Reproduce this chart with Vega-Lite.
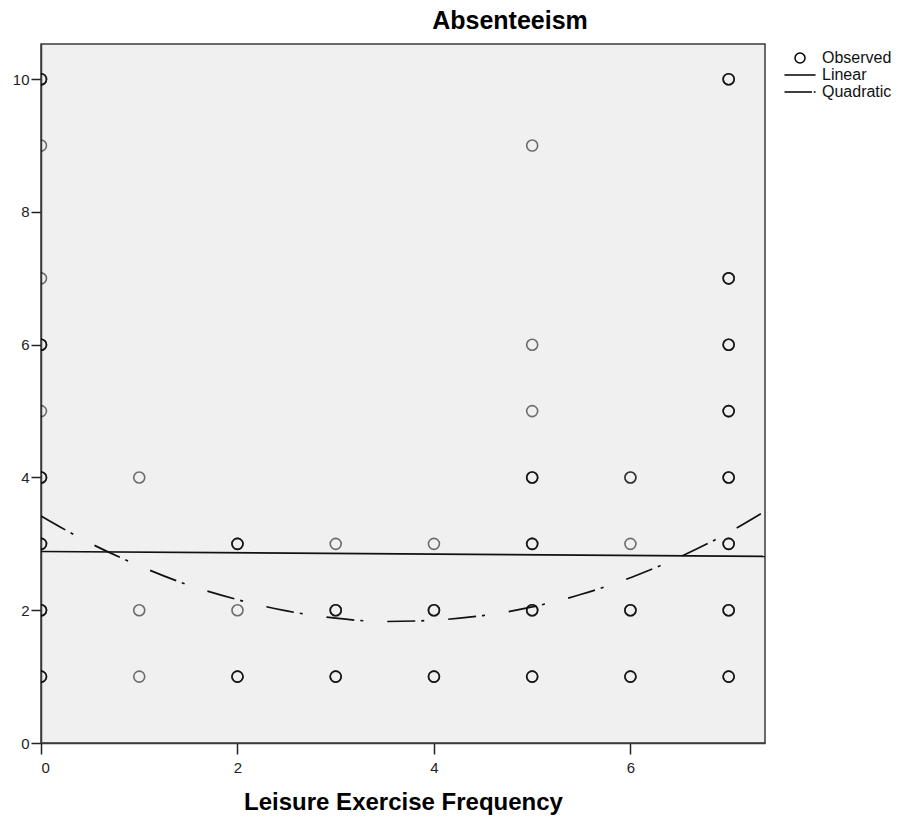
{
  "$schema": "https://vega.github.io/schema/vega-lite/v6.json",
  "autosize": {"type": "none"},
  "padding": {"left": 41, "top": 44, "right": 137, "bottom": 81},
  "width": 724,
  "height": 699,
  "background": "white",
  "title": {"text": "Absenteeism", "font": "Liberation Sans", "fontSize": 25, "fontWeight": "bold", "color": "#000", "anchor": "middle", "dx": 107, "offset": 10},
  "config": {
    "view": {"fill": "#f0f0f0", "stroke": "#3a3a3a", "strokeWidth": 1.5},
    "axis": {"grid": false, "labelFont": "Liberation Sans", "labelFontSize": 15, "labelColor": "#222", "domainColor": "#3a3a3a", "domainWidth": 1.5, "tickColor": "#222", "tickWidth": 1.5, "titleFont": "Liberation Sans", "titleColor": "#000"},
    "legend": {"labelFont": "Liberation Sans", "labelFontSize": 16, "labelColor": "#111"}
  },
  "datasets": {
    "obs": [
      {"x": 0, "y": 10}, {"x": 0, "y": 10}, {"x": 0, "y": 10},
      {"x": 0, "y": 9},
      {"x": 0, "y": 7},
      {"x": 0, "y": 6}, {"x": 0, "y": 6}, {"x": 0, "y": 6},
      {"x": 0, "y": 5},
      {"x": 0, "y": 4}, {"x": 0, "y": 4}, {"x": 0, "y": 4},
      {"x": 0, "y": 3}, {"x": 0, "y": 3}, {"x": 0, "y": 3},
      {"x": 0, "y": 2}, {"x": 0, "y": 2}, {"x": 0, "y": 2},
      {"x": 0, "y": 1}, {"x": 0, "y": 1}, {"x": 0, "y": 1},
      {"x": 1, "y": 4}, {"x": 1, "y": 2}, {"x": 1, "y": 1},
      {"x": 2, "y": 3}, {"x": 2, "y": 3}, {"x": 2, "y": 3},
      {"x": 2, "y": 2},
      {"x": 2, "y": 1}, {"x": 2, "y": 1}, {"x": 2, "y": 1},
      {"x": 3, "y": 3},
      {"x": 3, "y": 2}, {"x": 3, "y": 2}, {"x": 3, "y": 2},
      {"x": 3, "y": 1}, {"x": 3, "y": 1}, {"x": 3, "y": 1},
      {"x": 4, "y": 3},
      {"x": 4, "y": 2}, {"x": 4, "y": 2}, {"x": 4, "y": 2},
      {"x": 4, "y": 1}, {"x": 4, "y": 1}, {"x": 4, "y": 1},
      {"x": 5, "y": 9}, {"x": 5, "y": 6}, {"x": 5, "y": 5},
      {"x": 5, "y": 4}, {"x": 5, "y": 4}, {"x": 5, "y": 4},
      {"x": 5, "y": 3}, {"x": 5, "y": 3}, {"x": 5, "y": 3},
      {"x": 5, "y": 2}, {"x": 5, "y": 2}, {"x": 5, "y": 2},
      {"x": 5, "y": 1}, {"x": 5, "y": 1}, {"x": 5, "y": 1},
      {"x": 6, "y": 4}, {"x": 6, "y": 4},
      {"x": 6, "y": 3},
      {"x": 6, "y": 2}, {"x": 6, "y": 2}, {"x": 6, "y": 2},
      {"x": 6, "y": 1}, {"x": 6, "y": 1}, {"x": 6, "y": 1},
      {"x": 7, "y": 10}, {"x": 7, "y": 10}, {"x": 7, "y": 10},
      {"x": 7, "y": 7}, {"x": 7, "y": 7}, {"x": 7, "y": 7},
      {"x": 7, "y": 6}, {"x": 7, "y": 6}, {"x": 7, "y": 6},
      {"x": 7, "y": 5}, {"x": 7, "y": 5}, {"x": 7, "y": 5},
      {"x": 7, "y": 4}, {"x": 7, "y": 4}, {"x": 7, "y": 4},
      {"x": 7, "y": 3}, {"x": 7, "y": 3}, {"x": 7, "y": 3},
      {"x": 7, "y": 2}, {"x": 7, "y": 2}, {"x": 7, "y": 2},
      {"x": 7, "y": 1}, {"x": 7, "y": 1}, {"x": 7, "y": 1}
    ],
    "lin": [
      {"x": 0, "y": 2.885},
      {"x": 7.37, "y": 2.81}
    ],
    "quad": [
      {"x": 0, "y": 3.42}, {"x": 0.5, "y": 3.01}, {"x": 1, "y": 2.67}, {"x": 1.5, "y": 2.38},
      {"x": 2, "y": 2.16}, {"x": 2.5, "y": 1.99}, {"x": 3, "y": 1.88}, {"x": 3.5, "y": 1.83},
      {"x": 4, "y": 1.85}, {"x": 4.5, "y": 1.92}, {"x": 5, "y": 2.05}, {"x": 5.5, "y": 2.24},
      {"x": 6, "y": 2.49}, {"x": 6.5, "y": 2.80}, {"x": 7, "y": 3.17}, {"x": 7.37, "y": 3.49}
    ]
  },
  "encoding": {
    "x": {"field": "x", "type": "quantitative", "scale": {"domain": [0, 7.37], "nice": false, "zero": false},
      "axis": {"values": [0, 2, 4, 6], "tickSize": 11, "labelPadding": 6, "title": "Leisure Exercise Frequency", "titleFontSize": 24, "titleFontWeight": "bold", "titlePadding": 15}},
    "y": {"field": "y", "type": "quantitative", "scale": {"domain": [0, 10.53], "nice": false, "zero": false},
      "axis": {"values": [0, 2, 4, 6, 8, 10], "tickSize": 10, "labelPadding": 2, "title": null}}
  },
  "layer": [
    {
      "data": {"name": "obs"},
      "transform": [{"calculate": "'Observed'", "as": "series"}],
      "mark": {"type": "point", "filled": false, "clip": true, "size": 310, "stroke": "#000", "strokeWidth": 1.6, "strokeOpacity": 0.55, "opacity": 1},
      "encoding": {
        "shape": {"field": "series", "type": "nominal",
          "scale": {"domain": ["Observed", "Linear", "Quadratic"],
            "range": ["M-0.625,0A0.625,0.625,0,1,1,0.625,0A0.625,0.625,0,1,1,-0.625,0Z", "M-1.94,0H1.94", "M-1.94,0H1.5M1.72,0H1.94"]},
          "legend": {"title": null, "orient": "none", "legendX": 750, "legendY": 5, "symbolSize": 256, "symbolStrokeColor": "#000", "symbolFillColor": "transparent", "symbolStrokeWidth": 1.5, "symbolOpacity": 1, "labelOffset": 13, "rowPadding": 0, "padding": 0}}
      }
    },
    {
      "data": {"name": "lin"},
      "mark": {"type": "line", "color": "#111", "strokeWidth": 1.7, "clip": true},
      "encoding": {}
    },
    {
      "data": {"name": "quad"},
      "mark": {"type": "line", "color": "#111", "strokeWidth": 1.7, "interpolate": "monotone", "strokeDash": [28, 6, 3, 24], "clip": true},
      "encoding": {}
    }
  ]
}
